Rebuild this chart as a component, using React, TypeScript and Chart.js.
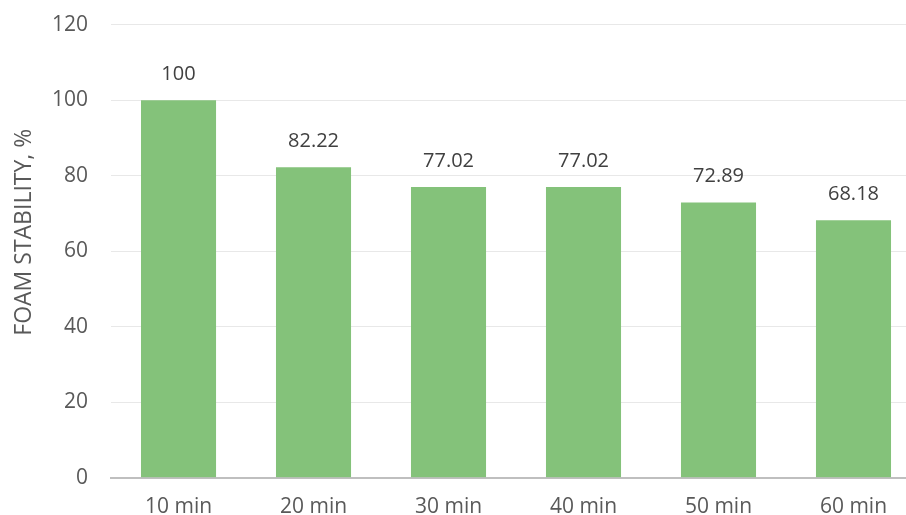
import React, { useEffect, useRef } from "react";
import { Chart, registerables } from "chart.js";

Chart.register(...registerables);

const categories = ["10 min", "20 min", "30 min", "40 min", "50 min", "60 min"];
const foamStability = [100, 82.22, 77.02, 77.02, 72.89, 68.18];
const valueLabels = ["100", "82.22", "77.02", "77.02", "72.89", "68.18"];
const yTicks = [0, 20, 40, 60, 80, 100, 120];
const yAxisTitle = "FOAM STABILITY, %";

const FONT = "'Open Sans', 'Liberation Sans', sans-serif";

// Numbers printed above each bar
const valueLabelPlugin = {
  id: "valueLabels",
  afterDatasetsDraw(chart: any) {
    const { ctx } = chart;
    const meta = chart.getDatasetMeta(0);
    ctx.save();
    ctx.font = `20px ${FONT}`;
    ctx.fillStyle = "#404040";
    ctx.textAlign = "center";
    ctx.textBaseline = "middle";
    meta.data.forEach((bar: any, i: number) => {
      ctx.fillText(valueLabels[i], bar.x, bar.y - 26);
    });
    ctx.restore();
  },
};

// Rotated y-axis title at the left edge
const axisTitlePlugin = {
  id: "axisTitle",
  afterDraw(chart: any) {
    const { ctx, chartArea } = chart;
    ctx.save();
    ctx.font = `23px ${FONT}`;
    ctx.fillStyle = "#595959";
    ctx.textAlign = "center";
    ctx.textBaseline = "middle";
    ctx.translate(24, (chartArea.top + chartArea.bottom) / 2 - 19);
    ctx.rotate(-Math.PI / 2);
    ctx.fillText(yAxisTitle, 0, 0);
    ctx.restore();
  },
};

export default function App() {
  const canvasRef = useRef<HTMLCanvasElement | null>(null);

  useEffect(() => {
    document.body.style.margin = "0";
    document.body.style.overflow = "hidden";
    document.documentElement.style.overflow = "hidden";
    const chart = new Chart(canvasRef.current as HTMLCanvasElement, {
      type: "bar",
      data: {
        labels: categories,
        datasets: [
          {
            data: foamStability,
            backgroundColor: "#84c27a",
            barPercentage: 0.556,
            categoryPercentage: 1,
          },
        ],
      },
      options: {
        animation: false,
        responsive: false,
        maintainAspectRatio: false,
        layout: { padding: { top: 0, right: 0, left: 29, bottom: 0 } },
        plugins: {
          legend: { display: false },
          tooltip: { enabled: false },
        },
        scales: {
          x: {
            grid: { display: false, drawTicks: false },
            border: { display: true, color: "#bfbfbf", width: 2 },
            ticks: {
              color: "#595959",
              font: { family: FONT, size: 21 },
              padding: 17,
            },
          },
          y: {
            min: 0,
            max: 120,
            afterBuildTicks(scale: any) {
              scale.ticks = yTicks.map((v) => ({ value: v }));
            },
            grid: { color: "#e8e8e8", lineWidth: 1, drawTicks: false },
            border: { display: false },
            ticks: {
              color: "#595959",
              font: { family: FONT, size: 21 },
              padding: 23,
            },
          },
        },
      },
      plugins: [valueLabelPlugin, axisTitlePlugin],
    });
    return () => chart.destroy();
  }, []);

  return (
    <div style={{ width: 921, height: 515, overflow: "hidden" }}>
      <canvas
        ref={canvasRef}
        width={921}
        height={548}
        style={{ display: "block", marginTop: -11 }}
      />
    </div>
  );
}
